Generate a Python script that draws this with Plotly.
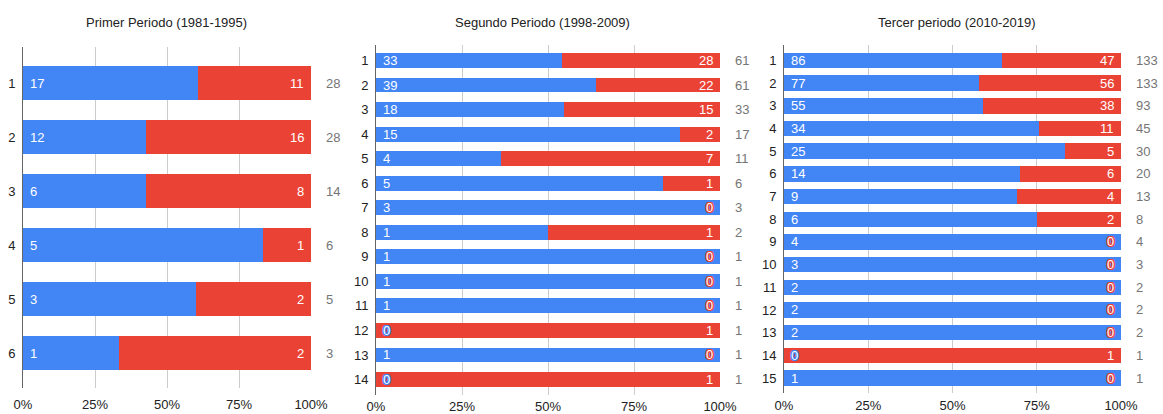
import plotly.graph_objects as go

W, H = 1163, 414

titles = ["Primer Periodo (1981-1995)", "Segundo Periodo (1998-2009)", "Tercer periodo (2010-2019)"]

p1_cats = ["1", "2", "3", "4", "5", "6"]
p1_blue = [17, 12, 6, 5, 3, 1]
p1_red = [11, 16, 8, 1, 2, 2]

p2_cats = [str(i) for i in range(1, 15)]
p2_blue = [33, 39, 18, 15, 4, 5, 3, 1, 1, 1, 1, 0, 1, 0]
p2_red = [28, 22, 15, 2, 7, 1, 0, 1, 0, 0, 0, 1, 0, 1]

p3_cats = [str(i) for i in range(1, 16)]
p3_blue = [86, 77, 55, 34, 25, 14, 9, 6, 4, 3, 2, 2, 2, 0, 1]
p3_red = [47, 56, 38, 11, 5, 6, 4, 2, 0, 0, 0, 0, 0, 1, 0]

x_ticks = [0, 25, 50, 75, 100]
x_tick_text = ["0%", "25%", "50%", "75%", "100%"]

BLUE = "#4285F4"
RED = "#EA4335"
FONT = "Liberation Sans, Arial, sans-serif"

panels = [
    dict(cats=p1_cats, blue=p1_blue, red=p1_red, xpx=(23, 311), ypx=(47, 388),
         width=0.63, pad=(0.667, 0.648), title_x=167, standoff=7),
    dict(cats=p2_cats, blue=p2_blue, red=p2_red, xpx=(376, 720), ypx=(45, 395),
         width=0.61, pad=(0.63, 0.63), title_x=542, standoff=2),
    dict(cats=p3_cats, blue=p3_blue, red=p3_red, xpx=(784, 1121), ypx=(45, 393),
         width=0.68, pad=(0.68, 0.66), title_x=957, standoff=3),
]

fig = go.Figure()
annotations = []


def outline(color):
    return ", ".join(f"{dx}px {dy}px 0 {color}" for dx, dy in
                     [(1, 0), (-1, 0), (0, 1), (0, -1), (1, 1), (-1, -1), (1, -1), (-1, 1)])


for i, p in enumerate(panels):
    n = i + 1
    xa = "x" if n == 1 else f"x{n}"
    ya = "y" if n == 1 else f"y{n}"
    pos = list(range(len(p["cats"])))
    totals = [b + r for b, r in zip(p["blue"], p["red"])]
    bpct = [b / t * 100 for b, t in zip(p["blue"], totals)]
    rpct = [r / t * 100 for r, t in zip(p["red"], totals)]
    fig.add_trace(go.Bar(y=pos, x=bpct, orientation="h", marker=dict(color=BLUE, line=dict(width=0)),
                         width=p["width"], xaxis=xa, yaxis=ya, hoverinfo="skip", showlegend=False))
    fig.add_trace(go.Bar(y=pos, x=rpct, orientation="h", marker=dict(color=RED, line=dict(width=0)),
                         width=p["width"], xaxis=xa, yaxis=ya, hoverinfo="skip", showlegend=False))

    for k, b, r, t in zip(pos, p["blue"], p["red"], totals):
        bf = dict(family=FONT, size=13, color="white")
        if b == 0:
            bf["shadow"] = outline(BLUE)
        annotations.append(dict(x=0, y=k, xref=xa, yref=ya, text=str(b), showarrow=False,
                                xanchor="left", xshift=5, font=bf))
        rf = dict(family=FONT, size=13, color="white")
        if r == 0:
            rf["shadow"] = outline(RED)
        annotations.append(dict(x=100, y=k, xref=xa, yref=ya, text=str(r), showarrow=False,
                                xanchor="right", xshift=-5, font=rf))
        annotations.append(dict(x=100, y=k, xref=xa, yref=ya, text=str(t), showarrow=False,
                                xanchor="left", xshift=13, font=dict(family=FONT, size=13, color="#757575")))

    annotations.append(dict(x=p["title_x"] / W, y=1 - 22 / H, xref="paper", yref="paper",
                            text=titles[i], showarrow=False, xanchor="center", yanchor="middle",
                            font=dict(family=FONT, size=13, color="#222222")))

    ncat = len(p["cats"])
    xdom = [p["xpx"][0] / W, p["xpx"][1] / W]
    ydom = [1 - p["ypx"][1] / H, 1 - p["ypx"][0] / H]
    xkey = "xaxis" if n == 1 else f"xaxis{n}"
    ykey = "yaxis" if n == 1 else f"yaxis{n}"
    fig.layout[xkey] = dict(domain=xdom, range=[0, 100], anchor=ya, tickvals=x_ticks, ticktext=x_tick_text,
                            showgrid=True, gridcolor="#cccccc", gridwidth=1, zeroline=False, showline=False,
                            ticks="", tickfont=dict(family=FONT, size=13, color="#222222"),
                            ticklabelstandoff=p["standoff"], automargin=False, fixedrange=True)
    fig.layout[ykey] = dict(domain=ydom, anchor=xa, tickvals=pos, ticktext=p["cats"],
                            range=[ncat - 1 + p["pad"][1], -p["pad"][0]],
                            showline=True, linecolor="#666666", linewidth=1, showgrid=False, zeroline=False,
                            ticks="", tickfont=dict(family=FONT, size=13, color="#222222"),
                            ticklabelstandoff=4, automargin=False, fixedrange=True)

fig.update_layout(
    width=W, height=H, barmode="stack",
    margin=dict(l=0, r=0, t=0, b=0),
    paper_bgcolor="white", plot_bgcolor="white",
    annotations=annotations,
    showlegend=False,
)

fig.write_html("out.html", config={"displayModeBar": False},
               post_script="document.body.style.margin='0';document.body.style.overflow='hidden';")
